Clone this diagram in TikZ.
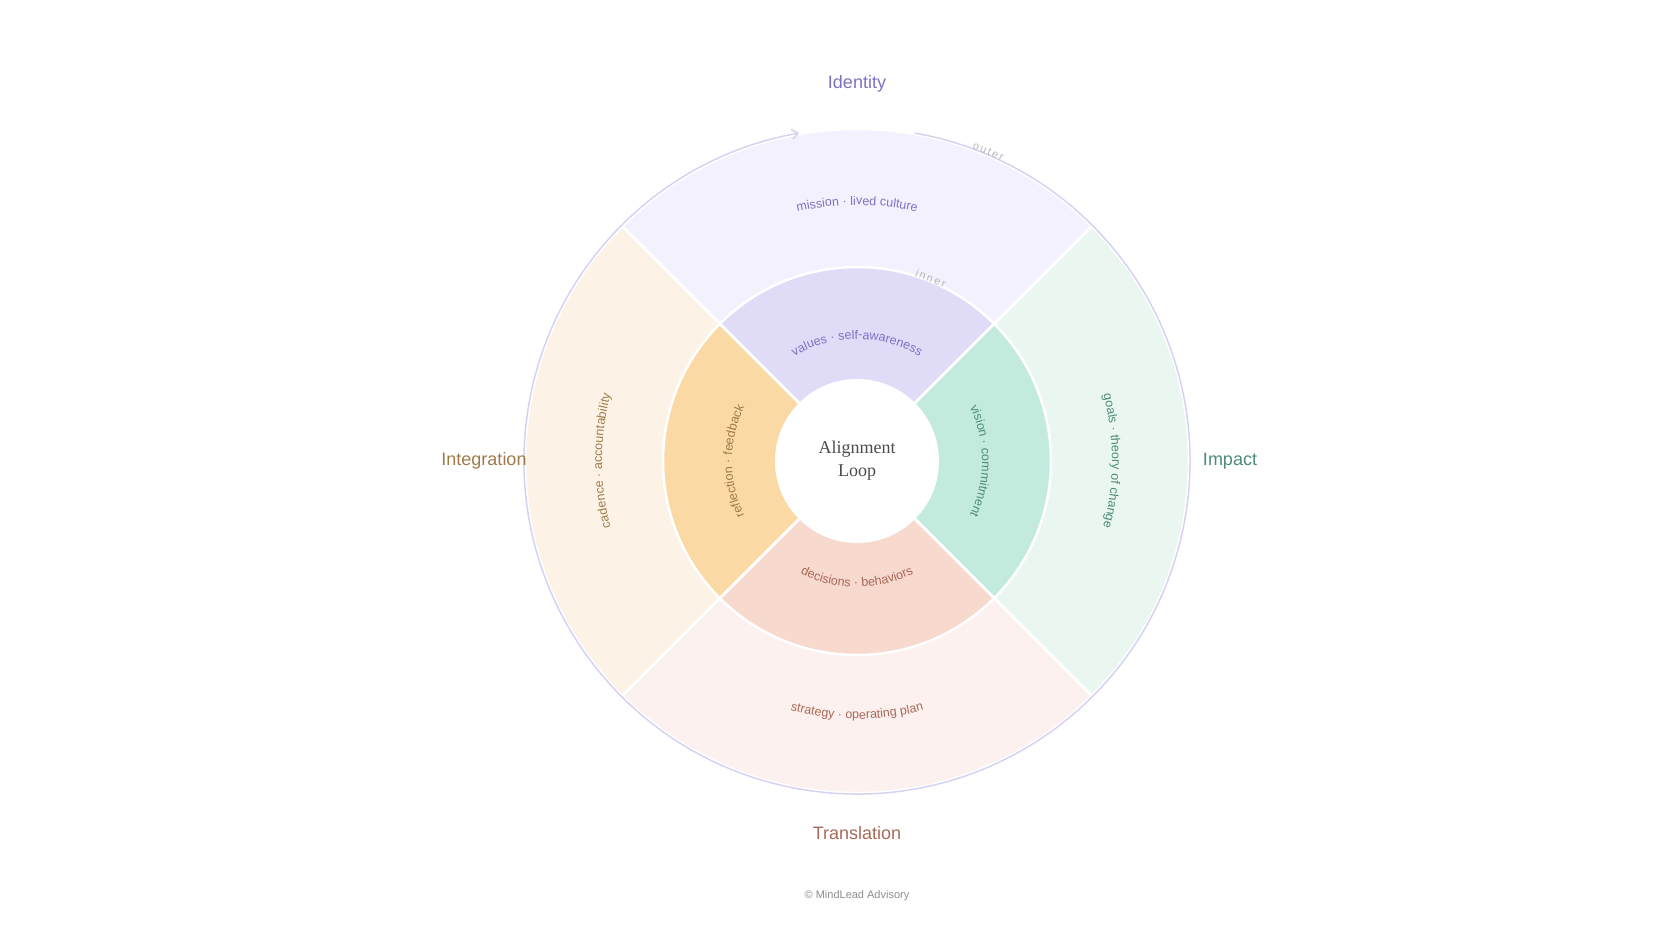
\documentclass[tikz,border=0pt]{standalone}
\usepackage{fontspec}
\setmainfont{Liberation Sans}
\newfontfamily\serifx{Liberation Serif}
\usetikzlibrary{decorations.text,arrows.meta}
\definecolor{oT}{HTML}{F3F1FD}\definecolor{iT}{HTML}{E0DCF8}\definecolor{tT}{HTML}{7C72C2}
\definecolor{oR}{HTML}{EAF7F1}\definecolor{iR}{HTML}{C3EBDD}\definecolor{tR}{HTML}{4C8C77}
\definecolor{oB}{HTML}{FCF1EE}\definecolor{iB}{HTML}{F7D9CD}\definecolor{tB}{HTML}{A8695A}
\definecolor{oL}{HTML}{FCF3E6}\definecolor{iL}{HTML}{FBD9A5}\definecolor{tL}{HTML}{A07A4A}
\definecolor{ring}{HTML}{D6D2F4}
\begin{document}
\begin{tikzpicture}[x=1pt,y=1pt,
  sep/.style={draw=white,line width=2.5pt},
  lab/.style={font=\fontsize{18}{20}\selectfont}]
\useasboundingbox (-857,-484) rectangle (823,461);
\coordinate (c) at (0,0);
% sectors
\newcommand\sect[4]{\fill[#1,sep] (#2:#4) arc[start angle=#2,end angle=#3,radius=#4] -- (0,0) -- cycle;}
\sect{oT}{45}{135}{332}\sect{oR}{-45}{45}{332}\sect{oB}{225}{315}{332}\sect{oL}{135}{225}{332}
\sect{iT}{45}{135}{194}\sect{iR}{-45}{45}{194}\sect{iB}{225}{315}{194}\sect{iL}{135}{225}{194}
\fill[white] (c) circle[radius=82];
% ring
\draw[ring,line width=1.5pt,-{Straight Barb[length=6pt,width=10pt]}] (80:333) arc[start angle=80,end angle=-260,radius=333];
% curved texts
\newcommand\arctext[5]{\path[decorate,decoration={text along path,text align=center,
   text format delimiters={|}{|},text={|\fontsize{12.5}{15}\selectfont\color{#1}|#5}}]
   (#2:#4) arc[start angle=#2,end angle=#3,radius=#4];}
\arctext{tT}{135}{45}{256}{mission · lived culture}
\arctext{tT}{135}{45}{122}{values · self-awareness}
\arctext{tB}{225}{315}{126}{decisions · behaviors}
\arctext{tB}{225}{315}{258}{strategy · operating plan}
\arctext{tL}{225}{135}{125}{reflection · feedback}
\arctext{tL}{225}{135}{255}{cadence · accountability}
\arctext{tR}{45}{-45}{125}{vision · commitment}
\arctext{tR}{45}{-45}{255}{goals · theory of change}
% small labels
\node[text=black!28,font=\fontsize{11}{12}\selectfont,rotate=-23] (outer) at (67:336) {o\,u\,t\,e\,r};
\node[text=black!28,font=\fontsize{11}{12}\selectfont,rotate=-22] (inner) at (68:197) {i\,n\,n\,e\,r};
% center
\node[align=center,text=black!70,font=\serifx\fontsize{18}{23}\selectfont] (ctr) at (c) {Alignment\\Loop};
% quadrant labels
\node[lab,text=tT] (id) at (0,377) {Identity};
\node[lab,text=tR] (im) at (373,0) {Impact};
\node[lab,text=tB] (tr) at (0,-372) {Translation};
\node[lab,text=tL] (in) at (-373,0) {Integration};
\node[text=black!45,font=\fontsize{11}{12}\selectfont] (foot) at (0,-435) {© MindLead Advisory};
\end{tikzpicture}
\end{document}
